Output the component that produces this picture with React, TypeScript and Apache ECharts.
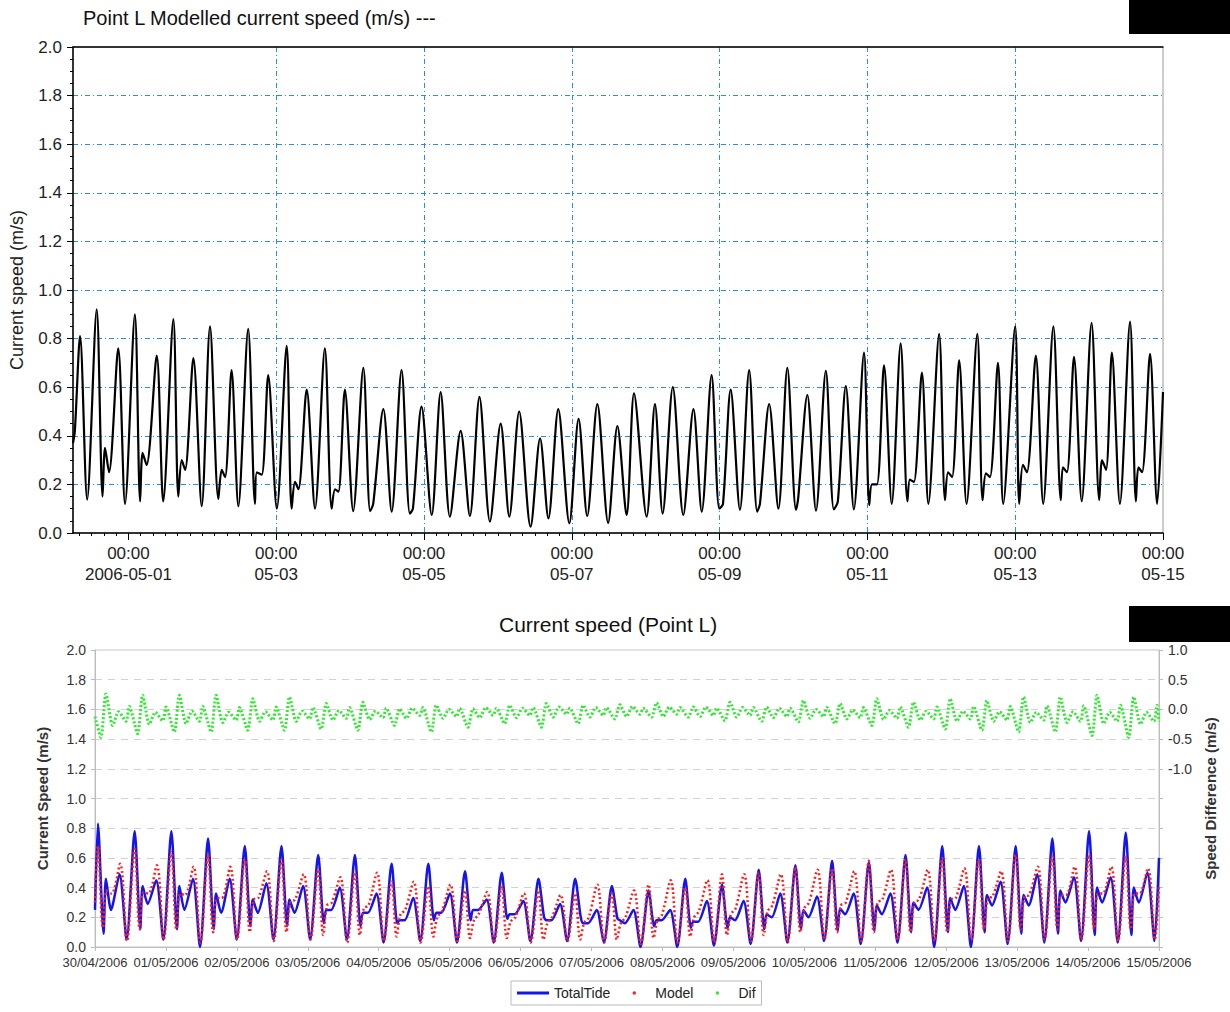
import React, { useEffect, useRef } from "react";
import * as echarts from "echarts";

const FONT = "'Liberation Sans', Arial, Helvetica, sans-serif";

const TOP_TITLE = "Point L Modelled current speed (m/s) ---";
const BOTTOM_TITLE = "Current speed (Point L)";

// ---------- Top panel: [hours after 2006-04-30 00:00, modelled speed m/s] ----------
const TOP_SPEED: number[][] = [
  [6.0, 0.37], [6.6, 0.42], [8.3, 0.81], [10.6, 0.137], [13.7, 0.92], [15.6, 0.15], [16.4, 0.35], [17.7, 0.25], [20.7, 0.76], [22.9, 0.12],
  [26.1, 0.9], [27.8, 0.13], [28.6, 0.33], [29.9, 0.28], [33.2, 0.73], [35.3, 0.13], [38.6, 0.88], [40.2, 0.15], [41.3, 0.3], [42.4, 0.26],
  [45.1, 0.72], [47.8, 0.11], [50.5, 0.85], [53.2, 0.14], [54.3, 0.26], [55.4, 0.23], [57.5, 0.67], [59.7, 0.11], [62.9, 0.84], [65.1, 0.12],
  [65.7, 0.25], [67.3, 0.24], [69.4, 0.65], [72.2, 0.1], [75.4, 0.77], [77.0, 0.1], [78.1, 0.21], [79.2, 0.18], [81.9, 0.59], [84.6, 0.1],
  [87.8, 0.76], [90.0, 0.1], [91.1, 0.18], [92.2, 0.17], [94.3, 0.59], [97.0, 0.09], [100.3, 0.68], [102.5, 0.09], [103.5, 0.12], [106.8, 0.51],
  [109.5, 0.088], [112.7, 0.67], [115.4, 0.08], [116.4, 0.1], [119.2, 0.52], [122.5, 0.074], [125.4, 0.58], [128.4, 0.067], [131.9, 0.42], [134.9, 0.07],
  [138.0, 0.56], [141.4, 0.047], [144.9, 0.45], [147.7, 0.067], [150.9, 0.5], [154.6, 0.026], [157.7, 0.39], [160.4, 0.06], [163.6, 0.51], [167.2, 0.04],
  [170.2, 0.47], [173.0, 0.07], [176.3, 0.53], [179.8, 0.042], [182.8, 0.44], [185.8, 0.074], [188.2, 0.575], [192.3, 0.067], [195.0, 0.53], [197.5, 0.08],
  [200.8, 0.6], [204.2, 0.074], [207.5, 0.51], [210.2, 0.088], [213.4, 0.65], [215.9, 0.1], [217.1, 0.12], [219.6, 0.59], [222.6, 0.095], [225.6, 0.67],
  [228.2, 0.088], [229.1, 0.12], [232.1, 0.53], [235.1, 0.1], [238.0, 0.68], [240.8, 0.095], [241.5, 0.14], [244.5, 0.568], [247.3, 0.092], [250.5, 0.667],
  [253.1, 0.097], [254.4, 0.13], [257.0, 0.605], [259.6, 0.097], [262.9, 0.742], [264.6, 0.115], [265.5, 0.2], [267.1, 0.2], [269.4, 0.69], [271.9, 0.12],
  [274.8, 0.78], [277.0, 0.13], [277.8, 0.22], [279.1, 0.21], [281.7, 0.66], [283.8, 0.12], [287.3, 0.82], [289.2, 0.135], [290.2, 0.25], [291.5, 0.23],
  [293.8, 0.71], [296.2, 0.12], [299.7, 0.82], [301.4, 0.135], [302.5, 0.245], [303.8, 0.23], [306.4, 0.7], [308.1, 0.12], [312.0, 0.85], [313.3, 0.12],
  [314.5, 0.28], [315.8, 0.25], [318.7, 0.73], [321.1, 0.12], [324.4, 0.85], [326.8, 0.135], [327.5, 0.27], [328.8, 0.25], [331.1, 0.725], [333.6, 0.13],
  [336.8, 0.865], [339.3, 0.135], [340.2, 0.3], [341.5, 0.26], [343.4, 0.742], [346.0, 0.12], [349.3, 0.87], [351.2, 0.13], [352.0, 0.27], [353.2, 0.25],
  [355.8, 0.737], [358.1, 0.12], [360.0, 0.58],
];

const TOP_X_MIN = 6;
const TOP_X_MAX = 360;
const TOP_LABEL_HOURS = [24, 72, 120, 168, 216, 264, 312, 360];
const TOP_LABELS = [
  "00:00\n2006-05-01", "00:00\n05-03", "00:00\n05-05", "00:00\n05-07",
  "00:00\n05-09", "00:00\n05-11", "00:00\n05-13", "00:00\n05-15",
];
const TOP_MINOR_STEP_H = 4;

// ---------- Bottom panel ----------
const DAY_LABELS = [
  "30/04/2006", "01/05/2006", "02/05/2006", "03/05/2006", "04/05/2006", "05/05/2006",
  "06/05/2006", "07/05/2006", "08/05/2006", "09/05/2006", "10/05/2006", "11/05/2006",
  "12/05/2006", "13/05/2006", "14/05/2006", "15/05/2006",
];

// tidal cycles: first main peak and spacing of main peaks (hours)
const TIDE_T0_H = 1.0;
const TIDE_PERIOD_H = 12.42;
// time of each feature inside a cycle (hours after the main peak)
const SPEED_OFFSETS_H = [0, 1.9, 2.7, 4.4, 7.3, 9.7];
const MODEL_OFFSETS_H = [0, 1.7, 3.0, 4.6, 7.5, 9.8];
const DIF_OFFSETS_H = [1.0, 2.7, 5.0, 7.0, 9.5, 10.6];

// TotalTide (blue), one value per tidal cycle
const BLUE_PEAK = [0.83, 0.78, 0.78, 0.73, 0.68, 0.68, 0.62, 0.62, 0.56, 0.56, 0.51, 0.5, 0.46, 0.46, 0.41, 0.38, 0.46, 0.42, 0.52, 0.55, 0.58, 0.57, 0.62, 0.68, 0.68, 0.68, 0.73, 0.78, 0.77];
const BLUE_DROP = [0.09, 0.12, 0.12, 0.12, 0.14, 0.14, 0.16, 0.14, 0.16, 0.18, 0.18, 0.19, 0.2, 0.2, 0.19, 0.14, 0.13, 0.13, 0.12, 0.12, 0.11, 0.11, 0.1, 0.1, 0.1, 0.09, 0.09, 0.08, 0.08];
const BLUE_STEP = [0.46, 0.41, 0.41, 0.36, 0.32, 0.32, 0.25, 0.23, 0.18, 0.23, 0.25, 0.22, 0.18, 0.16, 0.18, 0.18, 0.17, 0.2, 0.22, 0.25, 0.26, 0.28, 0.3, 0.33, 0.35, 0.35, 0.38, 0.4, 0.4];
const BLUE_SHELF = [0.25, 0.29, 0.25, 0.23, 0.23, 0.23, 0.25, 0.23, 0.18, 0.23, 0.25, 0.22, 0.18, 0.16, 0.16, 0.18, 0.17, 0.18, 0.2, 0.2, 0.22, 0.22, 0.25, 0.25, 0.28, 0.28, 0.3, 0.3, 0.3];
const BLUE_SECOND = [0.49, 0.45, 0.46, 0.46, 0.43, 0.41, 0.4, 0.36, 0.33, 0.36, 0.32, 0.31, 0.29, 0.25, 0.25, 0.25, 0.31, 0.31, 0.36, 0.34, 0.36, 0.36, 0.4, 0.41, 0.44, 0.49, 0.47, 0.47, 0.5];
const BLUE_SLACK = [0.05, 0.05, 0.0, 0.05, 0.05, 0.05, 0.05, 0.03, 0.04, 0.03, 0.03, 0.04, 0.04, 0.03, 0.0, 0.0, 0.01, 0.02, 0.03, 0.04, 0.02, 0.03, 0.0, 0.0, 0.02, 0.03, 0.04, 0.03, 0.04];
const BLUE_START = [0, 0.25];
const BLUE_END = [360, 0.6];

// Model (red)
const RED_PEAK = [0.68, 0.66, 0.64, 0.62, 0.59, 0.59, 0.52, 0.5, 0.44, 0.41, 0.38, 0.41, 0.38, 0.36, 0.36, 0.42, 0.4, 0.49, 0.5, 0.54, 0.53, 0.58, 0.59, 0.6, 0.59, 0.62, 0.61, 0.62, 0.61];
const RED_DROP = [0.13, 0.12, 0.12, 0.1, 0.1, 0.1, 0.08, 0.08, 0.07, 0.07, 0.06, 0.06, 0.05, 0.05, 0.05, 0.06, 0.07, 0.08, 0.08, 0.1, 0.1, 0.1, 0.1, 0.1, 0.12, 0.12, 0.12, 0.12, 0.12];
const RED_SHOULDER = [0.38, 0.37, 0.36, 0.33, 0.32, 0.3, 0.28, 0.26, 0.22, 0.2, 0.18, 0.17, 0.16, 0.16, 0.16, 0.18, 0.2, 0.22, 0.24, 0.26, 0.28, 0.3, 0.3, 0.32, 0.33, 0.34, 0.35, 0.36, 0.36];
const RED_SHELF = [0.36, 0.36, 0.35, 0.33, 0.33, 0.32, 0.3, 0.28, 0.25, 0.24, 0.22, 0.2, 0.2, 0.2, 0.2, 0.22, 0.24, 0.26, 0.28, 0.3, 0.3, 0.32, 0.32, 0.33, 0.34, 0.35, 0.35, 0.36, 0.36];
const RED_SECOND = [0.56, 0.55, 0.54, 0.54, 0.51, 0.49, 0.47, 0.5, 0.44, 0.42, 0.37, 0.36, 0.35, 0.42, 0.38, 0.45, 0.45, 0.49, 0.49, 0.52, 0.51, 0.52, 0.52, 0.53, 0.51, 0.54, 0.54, 0.54, 0.53];
const RED_SLACK = [0.04, 0.05, 0.03, 0.05, 0.04, 0.05, 0.03, 0.04, 0.03, 0.04, 0.03, 0.03, 0.04, 0.03, 0.02, 0.03, 0.03, 0.04, 0.03, 0.05, 0.04, 0.05, 0.04, 0.05, 0.04, 0.05, 0.05, 0.04, 0.05];
const RED_START = [0, 0.3];
const RED_END = [360, 0.42];

// Dif (green, right axis)
const DIF_DIP = [-0.47, -0.41, -0.38, -0.38, -0.35, -0.35, -0.33, -0.35, -0.27, -0.38, -0.3, -0.24, -0.3, -0.24, -0.16, -0.13, -0.13, -0.19, -0.2, -0.21, -0.24, -0.27, -0.3, -0.33, -0.35, -0.38, -0.38, -0.44, -0.47];
const DIF_JUMP = [0.26, 0.24, 0.24, 0.24, 0.18, 0.21, 0.1, 0.12, 0.01, 0.07, 0.01, 0.07, 0.1, 0.07, 0.08, 0.11, 0.04, 0.12, 0.04, 0.15, 0.1, 0.18, 0.12, 0.18, 0.15, 0.21, 0.21, 0.24, 0.21];
const DIF_EBB = [-0.27, -0.25, -0.24, -0.22, -0.2, -0.2, -0.18, -0.17, -0.15, -0.15, -0.14, -0.14, -0.13, -0.13, -0.12, -0.12, -0.12, -0.13, -0.14, -0.15, -0.16, -0.17, -0.18, -0.2, -0.2, -0.22, -0.22, -0.24, -0.25];
const DIF_BUMP = [-0.04, -0.05, -0.03, -0.05, -0.04, -0.03, -0.02, -0.03, 0.02, 0.0, 0.03, 0.02, 0.04, 0.03, 0.05, 0.04, 0.04, 0.03, 0.02, 0.0, -0.01, -0.02, -0.03, -0.03, -0.04, -0.05, -0.04, -0.05, -0.05];
const DIF_LOW = [-0.2, -0.19, -0.2, -0.18, -0.18, -0.16, -0.15, -0.14, -0.1, -0.12, -0.1, -0.1, -0.08, -0.1, -0.08, -0.08, -0.1, -0.1, -0.12, -0.12, -0.14, -0.15, -0.16, -0.16, -0.18, -0.18, -0.2, -0.2, -0.2];
const DIF_RISE = [0.05, 0.04, 0.05, 0.03, 0.04, 0.03, 0.03, 0.02, 0.03, 0.02, 0.02, 0.03, 0.02, 0.03, 0.02, 0.03, 0.02, 0.03, 0.02, 0.03, 0.03, 0.04, 0.04, 0.05, 0.05, 0.06, 0.06, 0.07, 0.07];
const DIF_START = [0, -0.12];
const DIF_END = [360, -0.2];

const BLUE = "#1414ee";
const RED = "#ff1c1c";
const GREEN = "#2fe82f";

function buildCycles(start: number[], features: number[][], offsets: number[], end: number[]) {
  const out: number[][] = [start];
  const n = features[0].length;
  for (let k = 0; k < n; k++) {
    const base = TIDE_T0_H + k * TIDE_PERIOD_H;
    for (let i = 0; i < features.length; i++) out.push([base + offsets[i], features[i][k]]);
  }
  out.push(end);
  return out;
}

function svgIcon(inner: string) {
  const svg = `<svg xmlns="http://www.w3.org/2000/svg" width="32" height="12" viewBox="0 0 32 12">${inner}</svg>`;
  return "image://data:image/svg+xml;charset=utf-8," + encodeURIComponent(svg);
}

export default function App() {
  const ref = useRef<HTMLDivElement>(null);

  useEffect(() => {
    if (!ref.current) return;
    const chart = echarts.init(ref.current, undefined, { renderer: "svg" });

    const topMinor: number[] = [];
    for (let h = 8; h <= 356; h += TOP_MINOR_STEP_H) {
      if (TOP_LABEL_HOURS.indexOf(h) < 0) topMinor.push(h);
    }

    const blueData = buildCycles(BLUE_START, [BLUE_PEAK, BLUE_DROP, BLUE_STEP, BLUE_SHELF, BLUE_SECOND, BLUE_SLACK], SPEED_OFFSETS_H, BLUE_END);
    const redData = buildCycles(RED_START, [RED_PEAK, RED_DROP, RED_SHOULDER, RED_SHELF, RED_SECOND, RED_SLACK], MODEL_OFFSETS_H, RED_END);
    const difData = buildCycles(DIF_START, [DIF_DIP, DIF_JUMP, DIF_EBB, DIF_BUMP, DIF_LOW, DIF_RISE], DIF_OFFSETS_H, DIF_END);

    const option: any = {
      animation: false,
      backgroundColor: "#ffffff",
      textStyle: { fontFamily: FONT },
      title: [
        {
          text: TOP_TITLE,
          left: 83,
          top: 8,
          padding: 0,
          textStyle: { fontSize: 20, fontWeight: "normal", color: "#111", fontFamily: FONT },
        },
        {
          text: BOTTOM_TITLE,
          left: 478,
          top: 604,
          padding: [10, 107, 14, 21],
          backgroundColor: "#ffffff",
          textStyle: { fontSize: 21, fontWeight: "normal", color: "#111", fontFamily: FONT },
        },
      ],
      legend: {
        left: 511,
        top: 981,
        orient: "horizontal",
        borderColor: "#bbbbbb",
        borderWidth: 1,
        padding: [5, 6],
        itemGap: 8,
        itemWidth: 32,
        itemHeight: 12,
        selectedMode: false,
        textStyle: { fontSize: 14, color: "#222", fontFamily: FONT },
        data: [
          { name: "TotalTide", icon: svgIcon(`<line x1="0" y1="6" x2="32" y2="6" stroke="${BLUE}" stroke-width="3"/>`) },
          { name: "Model", icon: svgIcon(`<circle cx="16" cy="6" r="1.7" fill="${RED}"/>`) },
          { name: "Dif", icon: svgIcon(`<circle cx="16" cy="6" r="1.7" fill="${GREEN}"/>`) },
        ],
      },
      grid: [
        { left: 73, top: 47, width: 1090, height: 486, show: true, borderColor: "#9a9a9a", borderWidth: 1 },
        { left: 95, top: 650, width: 1064, height: 297, show: true, borderColor: "#c6c6c6", borderWidth: 1 },
      ],
      xAxis: [
        {
          gridIndex: 0, type: "value", position: "bottom", min: TOP_X_MIN, max: TOP_X_MAX,
          axisLine: { show: true, onZero: false, lineStyle: { color: "#000", width: 1.5 } },
          axisTick: { show: true, customValues: topMinor, length: 3, lineStyle: { color: "#000" } },
          axisLabel: { show: false },
          splitLine: { show: false },
        },
        {
          gridIndex: 0, type: "value", position: "bottom", offset: 0, min: TOP_X_MIN, max: TOP_X_MAX,
          axisLine: { show: false, onZero: false },
          axisTick: { show: true, customValues: TOP_LABEL_HOURS, length: 7, lineStyle: { color: "#000" } },
          axisLabel: {
            show: true,
            customValues: TOP_LABEL_HOURS,
            formatter: (v: number) => {
              const i = TOP_LABEL_HOURS.indexOf(Math.round(v));
              return i >= 0 ? TOP_LABELS[i] : "";
            },
            fontSize: 17, lineHeight: 21, color: "#222", margin: 10, fontFamily: FONT,
          },
          splitLine: { show: true, showMinLine: false, showMaxLine: false, lineStyle: { color: "#2b8be8", type: [5, 3, 1, 3], width: 1 } },
        },
        {
          gridIndex: 0, type: "value", position: "top", min: TOP_X_MIN, max: TOP_X_MAX,
          axisLine: { show: true, onZero: false, lineStyle: { color: "#000", width: 1.5 } },
          axisTick: { show: false }, axisLabel: { show: false }, splitLine: { show: false },
        },
        {
          gridIndex: 1, type: "value", position: "bottom", min: 0, max: 360, interval: 24,
          axisLine: { show: true, onZero: false, lineStyle: { color: "#bdbdbd" } },
          axisTick: { show: true, length: 4, lineStyle: { color: "#bdbdbd" } },
          axisLabel: {
            formatter: (v: number) => DAY_LABELS[Math.round(v / 24)] ?? "",
            fontSize: 13, color: "#333", margin: 9, fontFamily: FONT,
          },
          splitLine: { show: false },
        },
      ],
      yAxis: [
        {
          gridIndex: 0, type: "value", min: 0, max: 2, interval: 0.2,
          name: "Current speed (m/s)", nameLocation: "middle", nameGap: 47, nameRotate: 90,
          nameTextStyle: { fontSize: 18, color: "#222", fontFamily: FONT },
          axisLine: { show: true, lineStyle: { color: "#000", width: 1.5 } },
          axisTick: { show: true, length: 6, lineStyle: { color: "#000" } },
          minorTick: { show: true, splitNumber: 4, length: 3, lineStyle: { color: "#000" } },
          axisLabel: { formatter: (v: number) => v.toFixed(1), fontSize: 17, color: "#222", margin: 11, fontFamily: FONT },
          splitLine: { show: true, showMinLine: false, showMaxLine: false, lineStyle: { color: "#2b8be8", type: [5, 3, 1, 3], width: 1 } },
        },
        {
          gridIndex: 1, type: "value", position: "left", min: 0, max: 2, interval: 0.2,
          name: "Current Speed (m/s)", nameLocation: "middle", nameGap: 45, nameRotate: 90,
          nameTextStyle: { fontSize: 15, fontWeight: "bold", color: "#333", fontFamily: FONT },
          axisLine: { show: true, lineStyle: { color: "#bdbdbd" } },
          axisTick: { show: true, length: 4, lineStyle: { color: "#bdbdbd" } },
          axisLabel: { formatter: (v: number) => v.toFixed(1), fontSize: 14, color: "#333", margin: 9, fontFamily: FONT },
          splitLine: { show: true, showMinLine: false, showMaxLine: false, lineStyle: { color: "#d2d2d2", type: [7, 6], width: 1 } },
        },
        {
          gridIndex: 1, type: "value", position: "right", min: -4, max: 1, interval: 0.5,
          name: "Speed Difference (m/s)", nameLocation: "middle", nameGap: 44, nameRotate: 90,
          nameTextStyle: { fontSize: 15, fontWeight: "bold", color: "#333", fontFamily: FONT },
          axisLine: { show: true, lineStyle: { color: "#bdbdbd" } },
          axisTick: { show: true, length: 4, lineStyle: { color: "#bdbdbd" } },
          axisLabel: {
            formatter: (v: number) => (v >= -1.001 ? v.toFixed(1) : ""),
            fontSize: 14, color: "#333", margin: 9, fontFamily: FONT,
          },
          splitLine: { show: false },
        },
      ],
      graphic: [
        { type: "rect", shape: { x: 1129, y: 0, width: 101, height: 34 }, style: { fill: "#000" }, z: 100 },
        { type: "rect", shape: { x: 1129, y: 606, width: 101, height: 36 }, style: { fill: "#000" }, z: 100 },
      ],
      series: [
        {
          type: "line", name: "Point L", xAxisIndex: 0, yAxisIndex: 0, data: TOP_SPEED,
          symbol: "none", showSymbol: false, clip: true, smooth: 0.3,
          lineStyle: { color: "#000", width: 2.2 },
        },
        {
          type: "line", name: "TotalTide", xAxisIndex: 3, yAxisIndex: 1, data: blueData,
          symbol: "none", showSymbol: false, clip: true, smooth: 0.25,
          lineStyle: { color: BLUE, width: 2.5 },
          itemStyle: { color: BLUE },
        },
        {
          type: "line", name: "Model", xAxisIndex: 3, yAxisIndex: 1, data: redData,
          symbol: "none", showSymbol: false, clip: true, smooth: 0.35,
          lineStyle: { color: RED, width: 2.5, type: [2, 2.5] },
          itemStyle: { color: RED },
        },
        {
          type: "line", name: "Dif", xAxisIndex: 3, yAxisIndex: 2, data: difData,
          symbol: "none", showSymbol: false, clip: true, smooth: 0.25,
          lineStyle: { color: GREEN, width: 3, type: [2, 2] },
          itemStyle: { color: GREEN },
        },
      ],
    };

    chart.setOption(option);
    return () => chart.dispose();
  }, []);

  return (
    <div
      ref={ref}
      style={{ position: "fixed", left: 0, top: 0, width: 1230, height: 1012, background: "#fff" }}
    />
  );
}
